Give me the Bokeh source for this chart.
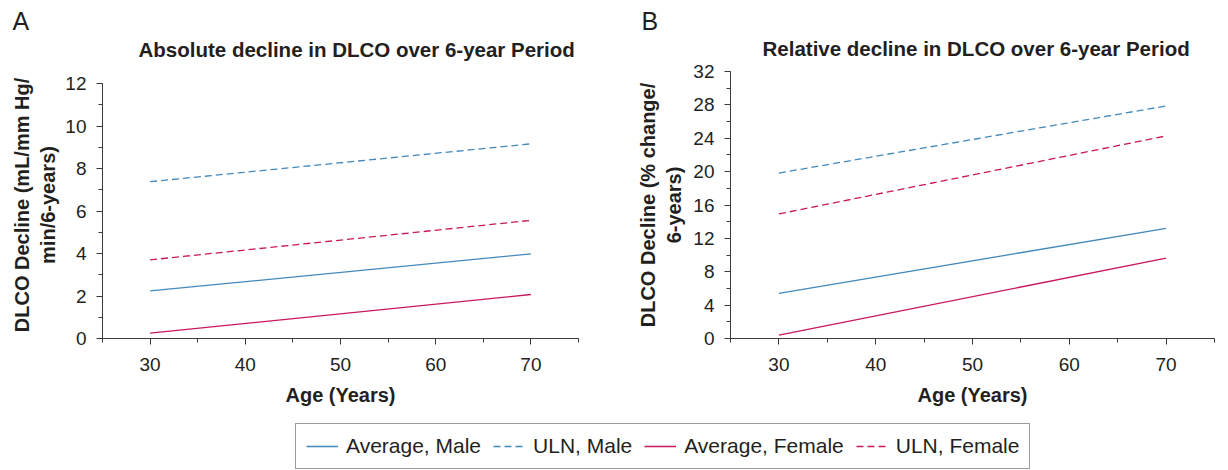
from bokeh.plotting import figure
from bokeh.models import Range1d, SingleIntervalTicker, Legend, LegendItem, Title
from bokeh.layouts import column, row
from bokeh.embed import file_html
from bokeh.resources import INLINE

# ---- data ----
age = [30, 70]
abs_avg_male = [2.24, 3.98]
abs_uln_male = [7.38, 9.16]
abs_avg_female = [0.25, 2.07]
abs_uln_female = [3.70, 5.56]
rel_avg_male = [5.42, 13.2]
rel_uln_male = [19.83, 27.87]
rel_avg_female = [0.4, 9.63]
rel_uln_female = [14.93, 24.28]

series_labels = ["Average, Male", "ULN, Male", "Average, Female", "ULN, Female"]
title_a = "Absolute decline in DLCO over 6-year Period"
title_b = "Relative decline in DLCO over 6-year Period"
ylabel_a = "DLCO Decline (mL/mm Hg/\nmin/6-years)"
ylabel_b = "DLCO Decline (% change/\n6-years)"
xlabel = "Age (Years)"

BLUE = "#4389bd"
RED = "#c8175d"
FONT = "Liberation Sans"
TXT = "#231f20"
AX = "#3a3a3a"
DASH = "7 4"
LW = 1.3


def make_panel(width, height, ymax, yview, yint, border_left, border_right,
               title, ylabel, ylabel_standoff, letter, letter_offset, letter_standoff,
               title_offset, title_standoff, data):
    p = figure(width=width, height=height, x_range=Range1d(25, 75), y_range=Range1d(0, yview),
               output_backend="svg", toolbar_location=None,
               min_border_left=border_left, min_border_right=border_right,
               min_border_top=71, min_border_bottom=72)
    p.outline_line_color = None
    p.xgrid.visible = False
    p.ygrid.visible = False
    p.xaxis.ticker = SingleIntervalTicker(interval=10, num_minor_ticks=2)
    p.yaxis.ticker = SingleIntervalTicker(interval=yint, num_minor_ticks=2)
    p.yaxis.bounds = (0, ymax)
    for ax in (p.xaxis[0], p.yaxis[0]):
        ax.axis_line_color = AX
        ax.major_tick_line_color = AX
        ax.minor_tick_line_color = AX
        ax.major_tick_out = 6
        ax.major_tick_in = 0
        ax.minor_tick_out = 4
        ax.minor_tick_in = 0
        ax.major_label_text_font = FONT
        ax.major_label_text_font_size = "19px"
        ax.major_label_text_color = TXT
        ax.axis_label_text_font = FONT
        ax.axis_label_text_font_size = "20px"
        ax.axis_label_text_font_style = "bold"
        ax.axis_label_text_color = TXT
    p.xaxis.major_label_standoff = 13
    p.yaxis.major_label_standoff = 10
    p.xaxis.axis_label = xlabel
    p.yaxis.axis_label = ylabel
    p.xaxis.axis_label_standoff = 10
    p.yaxis.axis_label_standoff = ylabel_standoff

    # panel letter (outermost) as the figure title
    p.title.text = letter
    p.title.align = "left"
    p.title.offset = letter_offset
    p.title.standoff = letter_standoff
    p.title.text_font = FONT
    p.title.text_font_size = "25px"
    p.title.text_font_style = "normal"
    p.title.text_color = TXT

    # chart title, next to the frame
    p.add_layout(Title(text=title, align="left", offset=title_offset, standoff=title_standoff,
                       text_font=FONT, text_font_size="20.5px", text_font_style="bold",
                       text_color=TXT), "above")

    am, um, af, uf = data
    p.line(age, am, line_color=BLUE, line_width=LW)
    p.line(age, um, line_color=BLUE, line_width=LW, line_dash=DASH)
    p.line(age, af, line_color=RED, line_width=LW)
    p.line(age, uf, line_color=RED, line_width=LW, line_dash=DASH)
    return p


# left panel: axis runs 0..12, view extended so both frames share the same top border
p1 = make_panel(620, 410, 12, 12 * 267 / 255, 2, 102, 42, title_a, ylabel_a, 3,
                "A", -90, -18, 36, 21,
                (abs_avg_male, abs_uln_male, abs_avg_female, abs_uln_female))
p2 = make_panel(608, 410, 32, 32, 4, 110, 14, title_b, ylabel_b, 5,
                "B", -89, -22, 32, 23,
                (rel_avg_male, rel_uln_male, rel_avg_female, rel_uln_female))

p3 = figure(width=1228, height=60, x_range=Range1d(0, 1), y_range=Range1d(0, 1),
            output_backend="svg", toolbar_location=None, min_border=0,
            x_axis_location=None, y_axis_location=None)
p3.outline_line_color = None
p3.xgrid.visible = False
p3.ygrid.visible = False
r1 = p3.line([5, 6], [5, 6], line_color=BLUE, line_width=LW)
r2 = p3.line([5, 6], [5, 6], line_color=BLUE, line_width=LW, line_dash=DASH)
r3 = p3.line([5, 6], [5, 6], line_color=RED, line_width=LW)
r4 = p3.line([5, 6], [5, 6], line_color=RED, line_width=LW, line_dash=DASH)
legend = Legend(items=[LegendItem(label=series_labels[0], renderers=[r1]),
                       LegendItem(label=series_labels[1], renderers=[r2]),
                       LegendItem(label=series_labels[2], renderers=[r3]),
                       LegendItem(label=series_labels[3], renderers=[r4])],
                orientation="horizontal", location=(295, 1),
                label_text_font=FONT, label_text_font_size="21px", label_text_color=TXT,
                glyph_width=32, glyph_height=20, label_height=20, label_standoff=8,
                spacing=12, padding=10, margin=0,
                border_line_color=AX, border_line_width=1)
p3.add_layout(legend, "center")

layout = column(row(p1, p2), p3)
open("out.html", "w").write(file_html(layout, INLINE))
